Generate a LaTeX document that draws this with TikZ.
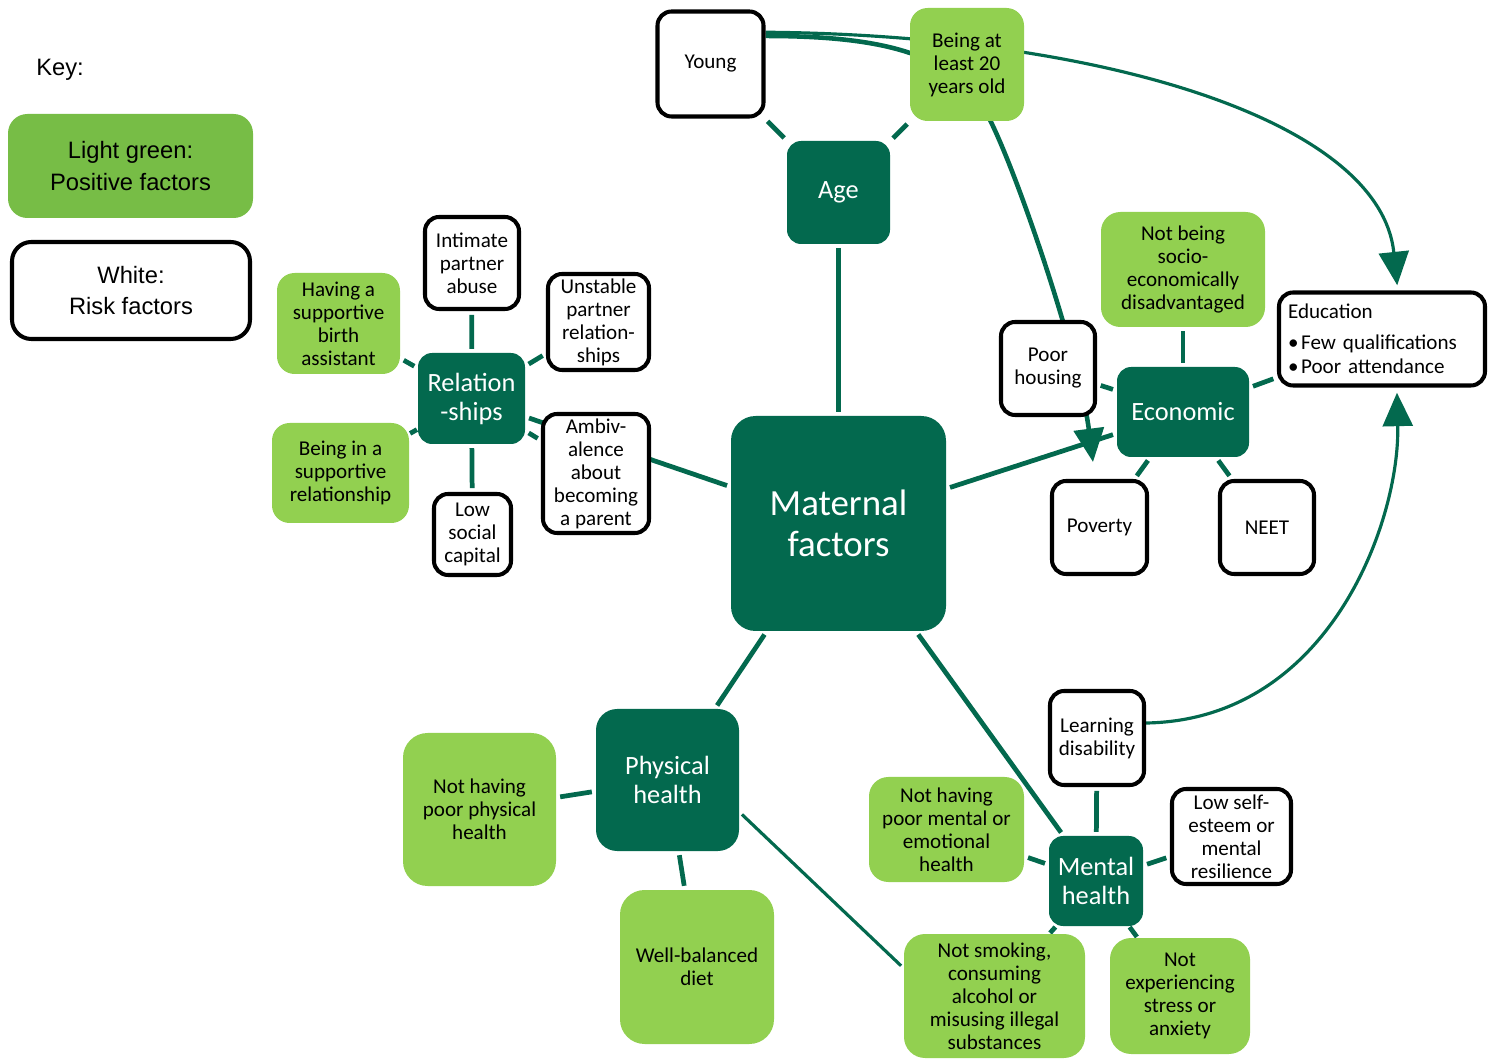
\documentclass[tikz,border=0pt]{standalone}
\usepackage{fontspec}
\setmainfont{Carlito}
\newfontfamily\keyfont{Liberation Sans}
\usetikzlibrary{arrows.meta,calc}
\definecolor{dg}{HTML}{03694E}
\definecolor{lg}{HTML}{92D050}
\definecolor{kg}{HTML}{77BD46}
\pgfdeclarelayer{bg}
\pgfsetlayers{bg,main}
\begin{document}
\begin{tikzpicture}[x=0.02cm,y=-0.02cm,
  base/.style={rounded corners=8pt, inner sep=0pt, align=center, font=\fontsize{12}{13.1}\selectfont},
  wbox/.style={base, draw=black, line width=2.3pt, fill=white},
  gbox/.style={base, fill=lg},
  dbox/.style={base, fill=dg, text=white, font=\fontsize{15}{16.5}\selectfont},
  sz/.style 2 args={minimum width=#1*0.02cm, minimum height=#2*0.02cm},
  conn/.style={draw=dg, line width=2.7pt, shorten <=2.2pt, shorten >=2.2pt},
  shortconn/.style={draw=dg, line width=2.7pt, shorten <=0.5pt, shorten >=0.5pt},
  thinconn/.style={draw=dg, line width=1.8pt, shorten <=2pt, shorten >=2pt},
  bigtip/.style={-{Triangle[width=17pt,length=19pt]}},
  keytext/.style={font=\keyfont\fontsize{13.5}{18}\selectfont}
]
\useasboundingbox (0,0) rectangle (1492,1060);

% key
\node[keytext, anchor=center] (keylabel) at (60,70) {Key:};
\node[base, fill=kg, sz={245}{104}, rounded corners=11pt, keytext] (keygreen) at (130.5,166) {Light green:\\Positive factors};
\node[wbox, sz={238}{97}, rounded corners=11pt, keytext] (keywhite) at (131,290.5) {White:\\Risk factors};

% central
\node[base, fill=dg, text=white, sz={215}{215}, rounded corners=14pt, font=\fontsize{21}{23.5}\selectfont] (maternal) at (838.5,523.5) {Maternal\\factors};

% age
\node[dbox, sz={103}{103}] (age) at (838.5,192.5) {Age};
\node[wbox, sz={106}{105}] (young) at (710.5,64) {Young};
\node[gbox, sz={114}{113}, rounded corners=10pt] (being20) at (967,64.5) {Being at\\least 20\\years old};

% relationships
\node[dbox, sz={107}{91}] (rel) at (471.5,398.5) {Relation\\-ships};
\node[wbox, sz={94}{92}] (intimate) at (472,263) {Intimate\\partner\\abuse};
\node[wbox, sz={101}{96}] (unstable) at (598.5,322) {Unstable\\partner\\relation-\\ships};
\node[wbox, sz={106}{119}] (ambiv) at (596,473.5) {Ambiv-\\alence\\about\\becoming\\a parent};
\node[wbox, sz={77}{81}] (lowsoc) at (472.5,534.5) {Low\\social\\capital};
\node[gbox, sz={123}{101}, rounded corners=10pt] (having) at (338.5,323.5) {Having a\\supportive\\birth\\assistant};
\node[gbox, sz={137}{100}, rounded corners=10pt] (beingin) at (340.5,473) {Being in a\\supportive\\relationship};

% economic
\node[dbox, sz={132}{90}] (econ) at (1183,412) {Economic};
\node[gbox, sz={164}{115}, rounded corners=11pt] (notsocio) at (1183,269.5) {Not being\\socio-\\economically\\disadvantaged};
\node[wbox, sz={94}{93}] (poorh) at (1048,368.5) {Poor\\housing};
\node[wbox, sz={206}{93}, align=left, text width=188*0.02cm] (edu) at (1382,339)
  {\fontsize{12}{16.5}\selectfont Education\\[1pt]•\hspace{1.5pt}Few qualifications\\[0.5pt]•\hspace{1.5pt}Poor attendance};
\node[wbox, sz={95}{93}] (poverty) at (1099.5,527.5) {Poverty};
\node[wbox, sz={94}{93}] (neet) at (1267,527.5) {NEET};

% physical
\node[dbox, sz={143}{142}, rounded corners=12pt] (phys) at (667.5,780) {Physical\\health};
\node[gbox, sz={153}{153}, rounded corners=14pt] (notphys) at (479.5,809.5) {Not having\\poor physical\\health};
\node[gbox, sz={154}{154}, rounded corners=14pt] (diet) at (697,967) {Well-balanced\\diet};

% mental
\node[dbox, sz={94}{90}] (mental) at (1096,881) {Mental\\health};
\node[wbox, sz={94}{94}] (learn) at (1097,738) {Learning\\disability};
\node[wbox, sz={119}{95}] (lowself) at (1231.5,836.5) {Low self-\\esteem or\\mental\\resilience};
\node[gbox, sz={155}{105}, rounded corners=11pt] (notmental) at (946.5,829.5) {Not having\\poor mental or\\emotional\\health};
\node[gbox, sz={181}{124}, rounded corners=12pt] (notsmoke) at (994.5,996) {Not smoking,\\consuming\\alcohol or\\misusing illegal\\substances};
\node[gbox, sz={140}{116}, rounded corners=12pt] (notstress) at (1180,996) {Not\\experiencing\\stress or\\anxiety};

\coordinate (htip) at (1093,462);

\begin{pgfonlayer}{bg}
  % maternal spokes
  \draw[conn] (maternal) -- (age);
  \draw[conn] (maternal) -- (rel);
  \draw[conn] (maternal) -- (econ);
  \draw[conn] (maternal) -- (phys);
  \draw[conn] (maternal) -- (mental);
  % age
  \draw[conn] (age) -- (young);
  \draw[conn] (age) -- (being20);
  % relationships
  \draw[conn] (rel) -- (intimate);
  \draw[conn] (rel) -- (unstable);
  \draw[conn] (rel) -- (ambiv);
  \draw[conn] (rel) -- (lowsoc);
  \draw[conn] (rel) -- (having);
  \draw[shortconn] (rel) -- (beingin);
  % economic
  \draw[conn] (econ) -- (notsocio);
  \draw[conn] (econ) -- (poorh);
  \draw[conn] (econ) -- (edu);
  \draw[conn] (econ) -- (poverty);
  \draw[conn] (econ) -- (neet);
  % physical
  \draw[conn] (phys) -- (notphys);
  \draw[conn] (phys) -- (diet);
  \draw[thinconn] (phys.-24) -- (notsmoke.163);
  % mental
  \draw[conn] (mental) -- (learn);
  \draw[conn] (mental) -- (lowself);
  \draw[conn] (mental) -- (notmental);
  \draw[shortconn] (mental) -- (notsmoke);
  \draw[shortconn] (mental) -- (notstress);
  % curved arrows
  \draw[draw=dg, line width=1.8pt, bigtip, shorten >=3pt]
    (young.30) .. controls (1100,35) and (1380,120) .. (edu.72);
  \draw[draw=dg, line width=2.6pt, bigtip]
    (young.27) .. controls (900,36) and (960,60) .. (990,120)
    .. controls (1020,180) and (1080,360) .. (htip);
  \draw[draw=dg, line width=1.8pt, bigtip, shorten >=3pt]
    (learn.17) .. controls (1330,720) and (1400,520) .. (edu.-73);
\end{pgfonlayer}
\end{tikzpicture}
\end{document}
